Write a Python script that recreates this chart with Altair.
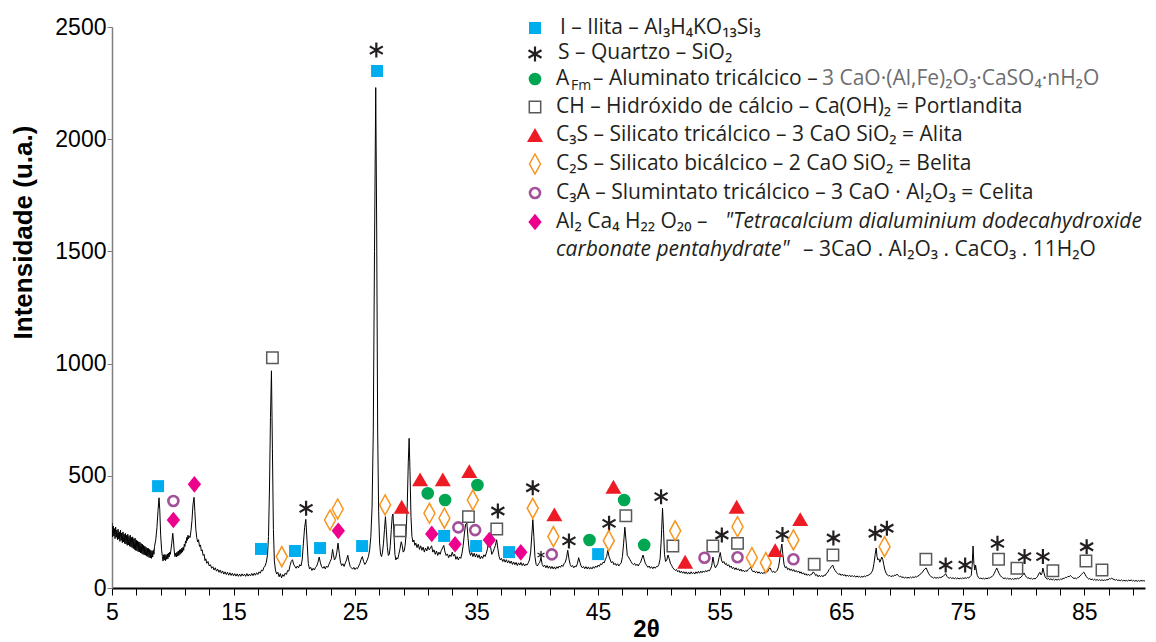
import altair as alt
import pandas as pd

# ---------------- diffraction pattern (2θ, intensity) ----------------
seg_05_09 = [(5.0,290),(5.05,228),(5.1,276),(5.15,232),(5.2,265),(5.25,220),(5.3,272),(5.35,226),(5.4,258),(5.45,215),
    (5.5,262),(5.55,218),(5.6,250),(5.65,208),(5.7,258),(5.75,212),(5.8,245),(5.85,202),(5.9,250),(5.95,205),
    (6.0,240),(6.05,198),(6.1,244),(6.15,196),(6.2,235),(6.25,190),(6.3,240),(6.35,192),(6.4,230),(6.45,186),
    (6.5,236),(6.55,184),(6.6,225),(6.65,180),(6.7,228),(6.75,176),(6.8,220),(6.85,172),(6.9,222),(6.95,168),
    (7.0,214),(7.05,166),(7.1,210),(7.15,162),(7.2,206),(7.25,160),(7.3,204),(7.35,156),(7.4,198),(7.45,154),
    (7.5,195),(7.55,150),(7.6,190),(7.65,148),(7.7,186),(7.75,146),(7.8,182),(7.85,142),(7.9,178),(7.95,140),
    (8.0,176),(8.05,136),(8.1,172),(8.15,134),(8.2,168),(8.25,132),(8.3,165),(8.35,138),(8.4,170),(8.45,150),
    (8.5,185),(8.6,215),(8.7,270),(8.78,340),(8.87,402),(8.93,350),(9.0,240),(9.08,170),(9.15,140),(9.2,120),
    (9.25,148),(9.3,125),(9.35,150),(9.4,122),(9.45,146),(9.5,128),(9.55,152),(9.6,130),(9.65,155),(9.7,138),
    (9.75,160),(9.8,150),(9.85,170),(9.92,200)]
seg_10_13 = [(10.0,244),(10.06,210),(10.12,165),(10.18,140),(10.25,155),(10.3,138),(10.35,160),(10.4,142),(10.45,165),
    (10.5,145),(10.55,170),(10.6,150),(10.65,172),(10.7,155),(10.75,178),(10.8,160),(10.85,182),(10.9,168),(10.95,195),
    (11.0,185),(11.05,210),(11.1,200),(11.15,225),(11.2,212),(11.25,235),(11.3,220),(11.35,232),(11.42,225),(11.5,255),
    (11.58,300),(11.66,370),(11.75,404),(11.82,340),(11.9,260),(11.97,225),(12.05,205),(12.12,215),(12.2,185),(12.28,192),
    (12.35,165),(12.42,170),(12.5,145),(12.58,150),(12.65,122),(12.72,130),(12.8,110),(12.9,118)]
seg_13_18 = [(13.0,98),(13.1,104),(13.2,88),(13.3,95),(13.4,80),(13.5,90),(13.6,75),(13.7,84),(13.8,70),(13.9,80),
    (14.0,66),(14.1,76),(14.2,62),(14.3,72),(14.4,60),(14.5,70),(14.6,57),(14.7,68),(14.8,56),(14.9,66),(15.0,54),
    (15.1,64),(15.2,53),(15.3,63),(15.4,52),(15.5,62),(15.6,52),(15.7,63),(15.8,54),(15.9,62),(16.0,52),(16.1,64),
    (16.2,53),(16.3,62),(16.4,54),(16.5,65),(16.6,55),(16.7,66),(16.8,57),(16.9,68),(17.0,60),(17.1,72),(17.2,66),
    (17.3,80),(17.4,76),(17.5,92),(17.6,98),(17.7,115),(17.8,150),(17.88,230),(17.96,450),(18.04,760),(18.12,968),
    (18.2,620),(18.28,260),(18.36,120),(18.45,80),(18.55,62),(18.65,70),(18.75,50),(18.85,64),(18.95,45)]
seg_19_26 = [(19.05,60),(19.15,52),(19.25,66),(19.35,60),(19.45,78),(19.55,75),(19.65,100),(19.75,118),(19.85,126),
    (19.95,105),(20.05,96),(20.15,88),(20.25,98),(20.35,90),(20.45,104),(20.55,98),(20.65,125),(20.75,200),(20.85,270),
    (20.95,306),(21.05,210),(21.15,110),(21.25,85),(21.35,92),(21.45,78),(21.55,88),(21.65,80),(21.75,92),(21.85,98),
    (21.95,115),(22.05,138),(22.15,112),(22.25,95),(22.35,88),(22.45,96),(22.55,85),(22.65,98),(22.75,92),(22.85,105),
    (22.95,118),(23.05,130),(23.15,172),(23.22,150),(23.3,125),(23.4,132),(23.5,160),(23.6,200),(23.7,155),(23.8,115),
    (23.9,100),(24.0,108),(24.1,96),(24.2,112),(24.3,125),(24.4,146),(24.5,118),(24.6,96),(24.7,90),(24.8,84),(24.9,92),
    (25.0,82),(25.1,90),(25.2,86),(25.3,98),(25.4,110),(25.5,128),(25.6,140),(25.7,118),(25.8,105),(25.9,112)]
seg_26_30 = [(26.0,125),(26.1,140),(26.2,170),(26.3,230),(26.4,360),(26.5,700),(26.6,1500),(26.7,2230),(26.78,1600),
    (26.86,700),(26.94,340),(27.02,200),(27.1,150),(27.18,140),(27.26,160),(27.34,200),(27.42,260),(27.5,318),(27.58,250),
    (27.66,180),(27.74,145),(27.82,150),(27.9,190),(27.98,260),(28.06,320),(28.12,330),(28.2,240),(28.28,150),(28.36,125),
    (28.44,135),(28.52,130),(28.6,150),(28.7,175),(28.8,206),(28.88,190),(28.96,160),(29.04,165),(29.12,190),(29.2,240),
    (29.3,380),(29.38,560),(29.45,667),(29.52,520),(29.6,320),(29.68,230),(29.76,205),(29.84,214),(29.92,190)]
seg_30_37 = [(30.0,200),(30.1,180),(30.2,195),(30.3,172),(30.4,188),(30.5,168),(30.6,182),(30.7,160),(30.8,178),
    (30.9,165),(31.0,185),(31.1,170),(31.2,178),(31.3,188),(31.4,160),(31.5,170),(31.6,150),(31.7,165),(31.8,145),
    (31.9,160),(32.0,150),(32.1,168),(32.2,178),(32.3,190),(32.4,160),(32.5,145),(32.6,152),(32.7,135),(32.8,148),
    (32.9,140),(33.0,160),(33.1,142),(33.2,150),(33.3,128),(33.4,140),(33.5,125),(33.6,138),(33.7,132),(33.8,155),
    (33.9,190),(34.0,245),(34.1,285),(34.2,290),(34.3,220),(34.4,165),(34.5,145),(34.6,158),(34.7,140),(34.8,155),
    (34.9,138),(35.0,152),(35.1,135),(35.2,148),(35.3,130),(35.4,142),(35.5,132),(35.6,148),(35.7,140),(35.8,155),
    (35.9,175),(36.0,215),(36.08,225),(36.16,180),(36.25,150),(36.35,160),(36.45,175),(36.55,190),(36.65,215),
    (36.75,175),(36.85,140),(36.95,125)]
seg_37_45 = [(37.05,132),(37.15,118),(37.25,128),(37.35,115),(37.45,126),(37.55,112),(37.65,122),(37.75,110),
    (37.85,120),(37.95,105),(38.05,116),(38.15,104),(38.25,114),(38.35,100),(38.45,112),(38.55,102),(38.65,114),
    (38.75,100),(38.85,110),(38.95,98),(39.05,106),(39.15,102),(39.25,112),(39.35,125),(39.45,160),(39.55,240),
    (39.63,305),(39.71,230),(39.8,140),(39.9,105),(40.0,98),(40.1,108),(40.2,115),(40.3,135),(40.4,105),(40.5,95),
    (40.6,102),(40.7,90),(40.8,100),(40.9,88),(41.0,98),(41.1,86),(41.2,96),(41.3,85),(41.4,94),(41.5,84),(41.6,95),
    (41.7,88),(41.8,98),(41.9,92),(42.0,102),(42.1,96),(42.2,108),(42.3,115),(42.4,135),(42.5,168),(42.6,130),
    (42.7,105),(42.8,95),(42.9,100),(43.0,90),(43.1,98),(43.2,95),(43.3,110),(43.4,135),(43.5,115),(43.6,98),
    (43.7,90),(43.8,96),(43.9,86),(44.0,95),(44.1,85),(44.2,94),(44.3,84),(44.4,92),(44.5,85),(44.6,95),(44.7,88),
    (44.8,98),(44.9,92)]
seg_45_51 = [(45.0,102),(45.1,96),(45.2,108),(45.3,104),(45.4,115),(45.5,112),(45.6,128),(45.7,140),(45.8,168),
    (45.9,140),(46.0,125),(46.1,112),(46.2,118),(46.3,104),(46.4,110),(46.5,100),(46.6,108),(46.7,98),(46.8,106),
    (46.9,112),(47.0,140),(47.1,200),(47.2,271),(47.3,210),(47.4,145),(47.5,138),(47.6,128),(47.7,118),(47.8,110),
    (47.9,104),(48.0,110),(48.1,100),(48.2,106),(48.3,98),(48.4,108),(48.5,115),(48.6,132),(48.7,147),(48.8,125),
    (48.9,108),(49.0,100),(49.1,92),(49.2,98),(49.3,88),(49.4,95),(49.5,86),(49.6,94),(49.7,88),(49.8,96),(49.9,95),
    (50.0,105),(50.1,130),(50.2,220),(50.3,356),(50.38,260),(50.46,150),(50.55,118),(50.65,125),(50.75,147),
    (50.85,130),(50.95,110)]
seg_51_60 = [(51.05,100),(51.15,90),(51.25,84),(51.35,78),(51.45,82),(51.55,72),(51.65,78),(51.75,68),(51.85,75),
    (51.95,66),(52.05,73),(52.15,64),(52.25,72),(52.35,62),(52.45,70),(52.55,62),(52.65,72),(52.75,64),(52.85,70),
    (52.95,62),(53.05,72),(53.15,65),(53.25,74),(53.35,66),(53.45,75),(53.55,68),(53.65,76),(53.75,70),(53.85,78),
    (53.95,72),(54.05,80),(54.15,76),(54.25,85),(54.35,100),(54.45,138),(54.55,105),(54.65,90),(54.75,98),(54.85,110),
    (54.95,135),(55.05,158),(55.15,125),(55.25,112),(55.35,118),(55.45,105),(55.55,110),(55.65,98),(55.75,104),
    (55.85,92),(55.95,98),(56.05,86),(56.15,92),(56.25,82),(56.35,90),(56.45,80),(56.55,86),(56.65,76),(56.75,84),
    (56.85,74),(56.95,80),(57.05,72),(57.15,78),(57.25,74),(57.35,82),(57.45,88),(57.55,92),(57.65,80),(57.75,72),
    (57.85,76),(57.95,68),(58.05,74),(58.15,66),(58.25,72),(58.35,64),(58.45,70),(58.55,63),(58.65,70),(58.75,65),
    (58.85,74),(58.95,72),(59.05,85),(59.15,90),(59.25,78),(59.35,70),(59.45,75),(59.55,68),(59.65,74),(59.75,80),
    (59.85,95),(59.95,130)]
seg_60_69 = [(60.05,175),(60.12,196),(60.2,150),(60.3,105),(60.4,90),(60.5,95),(60.6,82),(60.7,88),(60.8,78),
    (60.9,85),(61.0,75),(61.1,82),(61.2,72),(61.3,78),(61.4,70),(61.5,76),(61.6,66),(61.7,72),(61.8,62),(61.9,68),
    (62.0,58),(62.1,64),(62.2,56),(62.3,62),(62.4,55),(62.5,60),(62.6,62),(62.7,72),(62.8,66),(62.9,55),(63.0,60),
    (63.1,50),(63.2,57),(63.3,50),(63.4,56),(63.5,50),(63.6,58),(63.7,56),(63.8,66),(63.9,70),(64.0,82),(64.1,88),
    (64.2,96),(64.3,102),(64.4,88),(64.5,78),(64.6,70),(64.7,66),(64.8,60),(64.9,64),(65.0,56),(65.1,62),(65.2,54),
    (65.3,60),(65.4,52),(65.5,58),(65.6,52),(65.7,57),(65.8,50),(65.9,56),(66.0,50),(66.1,55),(66.2,48),(66.3,54),
    (66.4,48),(66.5,53),(66.6,47),(66.7,52),(66.8,48),(66.9,54),(67.0,50),(67.1,56),(67.2,55),(67.3,60),(67.4,62),
    (67.5,70),(67.6,80),(67.7,110),(67.8,150),(67.88,178),(67.95,140),(68.02,125),(68.1,130),(68.18,115),(68.26,125),
    (68.34,138),(68.42,128),(68.5,105),(68.6,80),(68.7,66),(68.8,58),(68.9,54)]
seg_69_78 = [(69.0,56),(69.1,50),(69.2,55),(69.3,52),(69.4,58),(69.5,56),(69.6,62),(69.7,55),(69.8,50),(69.9,53),
    (70.0,46),(70.1,50),(70.2,44),(70.3,49),(70.4,43),(70.5,48),(70.6,44),(70.7,49),(70.8,45),(70.9,50),(71.0,46),
    (71.1,51),(71.2,48),(71.3,54),(71.4,55),(71.5,62),(71.6,65),(71.7,72),(71.8,80),(71.9,86),(72.0,89),(72.1,76),
    (72.2,64),(72.3,56),(72.4,50),(72.5,48),(72.6,44),(72.7,48),(72.8,43),(72.9,47),(73.0,44),(73.1,48),(73.2,46),
    (73.3,50),(73.4,52),(73.5,58),(73.6,64),(73.7,52),(73.8,46),(73.9,44),(74.0,47),(74.1,42),(74.2,46),(74.3,41),
    (74.4,45),(74.5,41),(74.6,45),(74.7,40),(74.8,44),(74.9,41),(75.0,45),(75.1,42),(75.2,46),(75.3,43),(75.4,47),
    (75.5,45),(75.6,50),(75.7,56),(75.78,100),(75.85,187),(75.92,110),(76.0,80),(76.06,102),(76.12,80),(76.2,56),
    (76.3,46),(76.4,42),(76.5,45),(76.6,40),(76.7,44),(76.8,40),(76.9,44),(77.0,41),(77.1,45),(77.2,44),(77.3,48),
    (77.4,50),(77.5,56),(77.6,65),(77.7,78),(77.8,89),(77.9,76)]
seg_78_90 = [(78.0,64),(78.1,55),(78.2,49),(78.3,45),(78.4,42),(78.5,45),(78.6,40),(78.7,44),(78.8,39),(78.9,43),
    (79.0,38),(79.1,42),(79.2,38),(79.3,43),(79.4,40),(79.5,44),(79.6,41),(79.7,45),(79.8,48),(79.9,55),(80.0,62),
    (80.05,67),(80.15,56),(80.25,48),(80.35,44),(80.45,46),(80.55,40),(80.65,44),(80.75,39),(80.85,43),(80.95,40),
    (81.05,45),(81.15,50),(81.25,62),(81.35,70),(81.45,58),(81.52,65),(81.6,89),(81.68,70),(81.76,52),(81.86,44),
    (81.96,40),(82.06,42),(82.16,37),(82.26,41),(82.36,36),(82.46,40),(82.56,35),(82.66,39),(82.76,35),(82.86,39),
    (82.96,36),(83.06,41),(83.16,38),(83.26,43),(83.36,42),(83.46,48),(83.56,46),(83.66,52),(83.76,50),(83.86,56),
    (83.96,50),(84.06,46),(84.16,42),(84.26,45),(84.36,41),(84.46,46),(84.56,48),(84.66,54),(84.76,60),(84.86,66),
    (84.96,71),(85.06,62),(85.16,52),(85.26,45),(85.36,40),(85.46,42),(85.56,37),(85.66,40),(85.76,35),(85.86,39),
    (85.96,34),(86.06,38),(86.16,34),(86.26,37),(86.36,33),(86.46,37),(86.56,33),(86.66,36),(86.76,34),(86.86,38),
    (86.96,36),(87.06,42),(87.16,40),(87.26,44),(87.36,40),(87.46,38),(87.56,35),(87.66,38),(87.76,33),(87.86,36),
    (87.96,32),(88.06,36),(88.16,31),(88.26,35),(88.36,31),(88.46,34),(88.56,31),(88.66,35),(88.76,32),(88.86,36),
    (88.96,31),(89.06,34),(89.16,30),(89.26,34),(89.36,30),(89.46,33),(89.56,30),(89.66,34),(89.76,31),(89.86,33),
    (90.0,31)]

# ---------------- phase markers (2θ, intensity) ----------------
ilita_x = [8.79, 26.81, 17.26, 20.06, 22.12, 25.58, 32.33, 34.96, 37.67, 45.0]
ilita_y = [454, 2304, 174, 165, 178, 187, 232, 187, 160, 151]
quartzo_x = [26.75, 20.97, 36.75, 39.62, 42.6, 45.9, 50.18, 55.18, 60.17, 64.36, 67.8, 68.76, 73.6, 75.2, 77.86, 80.09, 81.6, 85.2]
quartzo_y = [2397, 355, 343, 447, 210, 288, 407, 236, 238, 223, 244, 266, 102, 102, 199, 140, 140, 184]
quartzo_small_x = [40.3]
quartzo_small_y = [147]
afm_x = [30.98, 32.41, 35.07, 44.29, 47.14, 48.79]
afm_y = [422, 392, 459, 214, 392, 192]
ch_x = [18.2, 28.7, 34.33, 36.66, 47.28, 51.15, 54.44, 56.47, 62.78, 64.32, 71.97, 77.95, 79.46, 82.42, 85.14, 86.46]
ch_y = [1026, 255, 318, 263, 322, 187, 187, 199, 106, 147, 128, 128, 88, 77, 120, 80]
c3s_x = [28.84, 30.35, 32.22, 34.4, 41.4, 46.26, 52.16, 56.4, 59.57, 61.63]
c3s_y = [362, 484, 484, 521, 328, 451, 117, 362, 169, 307]
c2s_x = [18.97, 22.94, 23.57, 27.47, 31.12, 32.35, 34.69, 39.62, 41.32, 45.88, 51.34, 56.47, 57.65, 58.8, 61.07, 68.57]
c2s_y = [140, 303, 352, 370, 333, 311, 392, 355, 229, 211, 255, 273, 135, 113, 214, 184]
c3a_x = [10.05, 33.5, 34.88, 41.19, 53.75, 56.47, 61.07]
c3a_y = [388, 270, 258, 150, 135, 137, 128]
al2_x = [10.05, 11.78, 23.62, 31.31, 33.23, 36.05, 38.64]
al2_y = [303, 462, 255, 241, 195, 214, 159]

# x-axis ticks and labels
x_tick_values = list(range(5, 90, 2))
x_label_values = [5, 15, 25, 35, 45, 55, 65, 75, 85]
y_tick_values = [0, 500, 1000, 1500, 2000, 2500]

# ---------------- legend text ----------------
legend_text = [
    "I – Ilita – Al₃H₄KO₁₃Si₃",
    "S – Quartzo – SiO₂",
    "A", "Fm", "– Aluminato tricálcico –", "3 CaO·(Al,Fe)₂O₃·CaSO₄·nH₂O",
    "CH – Hidróxido de cálcio – Ca(OH)₂ = Portlandita",
    "C₃S – Silicato tricálcico – 3 CaO SiO₂ = Alita",
    "C₂S – Silicato bicálcico – 2 CaO SiO₂ = Belita",
    "C₃A – Slumintato tricálcico – 3 CaO · Al₂O₃ = Celita",
    "Al₂ Ca₄ H₂₂ O₂₀ –", "\"Tetracalcium dialuminium dodecahydroxide",
    "carbonate pentahydrate\"", "– 3CaO . Al₂O₃ . CaCO₃ . 11H₂O",
]
legend_style = ["normal", "normal", "normal", "sub", "normal", "gray", "normal", "normal", "normal",
                "normal", "normal", "italic", "italic", "normal"]
# layout (pixels inside the plot area)
legend_px = [448, 446, 444, 459, 481, 710, 444, 444, 444, 444, 444, 613, 444, 691]
legend_py = [1, 26, 52, 59, 52, 52, 80, 108, 137, 166, 195, 195, 223, 223]
legend_sym_px = 423
legend_sym_py = [1, 27, 52, 80, 108, 137, 166, 195]

PLOT_W, PLOT_H = 1033, 561
FONT_AX = "Liberation Sans"
FONT_LEG = "Open Sans"

df_line = pd.DataFrame(seg_05_09 + seg_10_13 + seg_13_18 + seg_19_26 + seg_26_30 + seg_30_37
                       + seg_37_45 + seg_45_51 + seg_51_60 + seg_60_69 + seg_69_78 + seg_78_90,
                       columns=["t", "i"])

xscale = alt.Scale(domain=[5, 90], nice=False, zero=False)
yscale = alt.Scale(domain=[0, 2500], nice=False)

label_test = " || ".join(f"datum.value == {v}" for v in x_label_values)
x_axis = alt.Axis(
    values=x_tick_values,
    labelExpr=f"({label_test}) ? datum.label : ''",
    title="2θ", titleFont=FONT_AX, titleFontSize=24, titleFontWeight="bold", titleColor="black",
    titleX=534, titleY=41, titleBaseline="middle",
    labelFont=FONT_AX, labelFontSize=23, labelColor="black", labelFlush=False, labelOverlap=False,
    labelPadding=6, tickColor="black", tickSize=7, tickWidth=1, domainColor="black", domainWidth=2,
    grid=False, format="d",
)
y_axis = alt.Axis(
    values=y_tick_values,
    title="Intensidade (u.a.)", titleFont=FONT_AX, titleFontSize=26, titleFontWeight="bold",
    titleColor="black", titleX=-89, titleY=205, titleBaseline="middle",
    labelFont=FONT_AX, labelFontSize=23, labelColor="black", labelPadding=1, labelOverlap=False,
    tickColor="#7f7f7f", tickSize=5, domainColor="#7f7f7f", domainWidth=1.5, grid=False, format="d",
)

X_ENC = alt.X("t:Q", scale=xscale, axis=x_axis)
Y_ENC = alt.Y("i:Q", scale=yscale, axis=y_axis)

line = alt.Chart(df_line).mark_line(color="black", strokeWidth=1, clip=True).encode(x=X_ENC, y=Y_ENC)

ASTER = "M0,-1L0,1M-0.866,-0.5L0.866,0.5M-0.866,0.5L0.866,-0.5"
DIAMOND_OPEN = "M0,-1L0.55,0L0,1L-0.55,0Z"
DIAMOND_FILL = "M0,-1L0.8,0L0,1L-0.8,0Z"

phases = [
    (ilita_x, ilita_y, dict(shape="square", filled=True, color="#00AEEF", size=144, opacity=1), 0),
    (quartzo_x, quartzo_y, dict(shape=ASTER, filled=False, color="#231F20", strokeWidth=2.2, size=225, opacity=1), 1),
    (afm_x, afm_y, dict(shape="circle", filled=True, color="#00A651", size=160, opacity=1), 2),
    (ch_x, ch_y, dict(shape="square", filled=False, color="#58595B", strokeWidth=1.5, size=130, opacity=1), 3),
    (c3s_x, c3s_y, dict(shape="triangle-up", filled=True, color="#ED1C24", size=256, opacity=1), 4),
    (c2s_x, c2s_y, dict(shape=DIAMOND_OPEN, filled=False, color="#F7941D", strokeWidth=1.5, size=400, opacity=1), 5),
    (c3a_x, c3a_y, dict(shape="circle", filled=False, color="#A3509B", strokeWidth=2.6, size=100, opacity=1), 6),
    (al2_x, al2_y, dict(shape=DIAMOND_FILL, filled=True, color="#EC008C", size=279, opacity=1), 7),
]

layers = [line]
for xs, ys, style, row in phases:
    dfp = pd.DataFrame({"t": xs, "i": ys})
    layers.append(alt.Chart(dfp).mark_point(**style).encode(x=X_ENC, y=Y_ENC))
    dfl = pd.DataFrame({"k": [0]})
    layers.append(alt.Chart(dfl).mark_point(**style).encode(
        x=alt.value(legend_sym_px), y=alt.value(legend_sym_py[row])))

# small quartz asterisk
layers.append(alt.Chart(pd.DataFrame({"t": quartzo_small_x, "i": quartzo_small_y})).mark_point(
    shape=ASTER, filled=False, color="#231F20", strokeWidth=1.3, size=64, opacity=1).encode(x=X_ENC, y=Y_ENC))

df_leg = pd.DataFrame({"txt": legend_text, "st": legend_style, "px": legend_px, "py": legend_py})
text_styles = {
    "normal": dict(fontSize=21, color="#231F20"),
    "gray": dict(fontSize=21, color="#6D6E71"),
    "italic": dict(fontSize=21, color="#231F20", fontStyle="italic"),
    "sub": dict(fontSize=14, color="#231F20"),
}
for st, kw in text_styles.items():
    layers.append(alt.Chart(df_leg[df_leg["st"] == st]).mark_text(
        align="left", baseline="middle", font=FONT_LEG, **kw).encode(
        x=alt.X("px:Q", scale=None, axis=None),
        y=alt.Y("py:Q", scale=None, axis=None),
        text="txt:N"))

chart = alt.layer(*layers).properties(
    width=PLOT_W, height=PLOT_H,
    padding={"left": 104, "top": 19, "right": 3, "bottom": 52},
    autosize=alt.AutoSizeParams(type="none"),
).configure_view(stroke=None).configure_axis(labelOverlap=False)

chart.save("out.html", embed_options={"renderer": "svg", "actions": False})
